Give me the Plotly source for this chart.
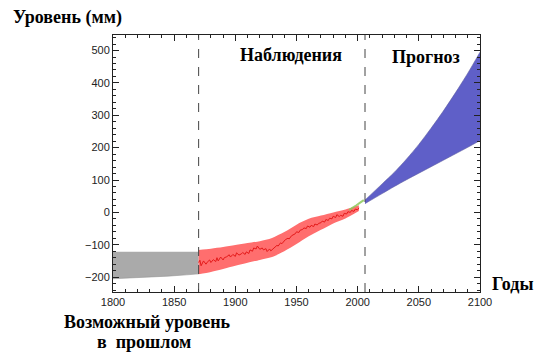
import plotly.graph_objects as go

# ---- data ----
past_years = [1800, 1815, 1830, 1845, 1860, 1870]
past_upper = [-122, -122, -122, -122, -122, -122]
past_lower = [-205, -203, -200, -197, -193, -190]

obs_years = [1870, 1871, 1872, 1874, 1876, 1877, 1879, 1880, 1882, 1884, 1885, 1886, 1888,
             1890, 1891, 1893, 1895, 1896, 1898, 1900, 1901, 1903, 1905, 1906, 1908, 1909,
             1911, 1912, 1914, 1915, 1917, 1918, 1920, 1922, 1923, 1925, 1926, 1928, 1929,
             1931, 1932, 1934, 1935, 1937, 1938, 1940, 1941, 1943, 1944, 1946, 1947, 1949,
             1950, 1952, 1953, 1955, 1956, 1958, 1959, 1961, 1962, 1964, 1965, 1967, 1968,
             1970, 1971, 1973, 1974, 1976, 1977, 1979, 1980, 1982, 1983, 1985, 1986, 1988,
             1989, 1991, 1992, 1994, 1995, 1997, 1998, 2000, 2001]
obs_mean = [-155, -148, -165, -150, -160, -154, -147, -155, -146, -152, -140, -150, -138,
            -147, -140, -137, -131, -138, -130, -136, -125, -132, -128, -124, -130, -122,
            -127, -116, -120, -110, -113, -104, -114, -110, -116, -112, -121, -113, -119,
            -112, -107, -102, -104, -94, -97, -88, -84, -80, -82, -72, -70, -66,
            -60, -62, -55, -53, -48, -50, -42, -46, -40, -44, -36, -39, -34,
            -32, -27, -30, -22, -25, -18, -20, -12, -16, -7, -13, -9, -12,
            -3, -5, 2, 0, 6, 3, 10, 8, 14]

band_years = [1870, 1880, 1890, 1900, 1910, 1920, 1930, 1940, 1950, 1960, 1970, 1980, 1990, 2001]
band_upper = [-116, -112, -107, -101, -95, -89, -79, -61, -38, -20, -10, 0, 9, 22]
band_lower = [-191, -184, -175, -165, -156, -147, -138, -120, -98, -74, -54, -34, -19, 4]

sat_years = [1993, 1996, 1999, 2002, 2005]
sat_values = [8, 14, 22, 30, 38]

proj_years = [2006, 2020, 2030, 2040, 2050, 2060, 2070, 2080, 2090, 2100]
proj_upper = [38, 88, 124, 165, 210, 260, 313, 370, 430, 495]
proj_lower = [27, 58, 80, 101, 121, 141, 161, 181, 201, 222]

divider_years = [1870, 2006]

x_ticks = [1800, 1850, 1900, 1950, 2000, 2050, 2100]
y_ticks = [-200, -100, 0, 100, 200, 300, 400, 500]

# ---- figure ----
fig = go.Figure()

fig.add_trace(go.Scatter(x=past_years, y=past_upper, mode="lines",
                         line=dict(width=0), hoverinfo="skip", showlegend=False))
fig.add_trace(go.Scatter(x=past_years, y=past_lower, mode="lines", fill="tonexty",
                         fillcolor="rgb(170,170,170)", line=dict(width=0.6, color="rgb(150,150,150)"),
                         showlegend=False))

fig.add_trace(go.Scatter(x=band_years, y=band_upper, mode="lines",
                         line=dict(width=0, shape="spline", smoothing=0.8),
                         hoverinfo="skip", showlegend=False))
fig.add_trace(go.Scatter(x=band_years, y=band_lower, mode="lines", fill="tonexty",
                         fillcolor="rgb(255,110,110)",
                         line=dict(width=0, shape="spline", smoothing=0.8),
                         showlegend=False))
fig.add_trace(go.Scatter(x=obs_years, y=obs_mean, mode="lines",
                         line=dict(width=1, color="rgb(228,25,25)"), showlegend=False))
fig.add_trace(go.Scatter(x=sat_years, y=sat_values, mode="lines",
                         line=dict(width=2, color="rgba(140,200,90,0.85)"), showlegend=False))

fig.add_trace(go.Scatter(x=proj_years, y=proj_upper, mode="lines",
                         line=dict(width=0.6, color="rgb(90,90,160)", shape="spline", smoothing=0.8),
                         hoverinfo="skip", showlegend=False))
fig.add_trace(go.Scatter(x=proj_years, y=proj_lower, mode="lines", fill="tonexty",
                         fillcolor="rgb(95,95,200)",
                         line=dict(width=0.6, color="rgb(90,90,160)", shape="spline", smoothing=0.8),
                         showlegend=False))

for yr in divider_years:
    fig.add_shape(type="line", x0=yr, x1=yr, y0=0, y1=1, xref="x", yref="paper",
                  line=dict(color="#444", width=1, dash="dash"))

axis_common = dict(showline=True, linecolor="#222", linewidth=1, mirror="ticks",
                   ticks="inside", ticklen=6, tickcolor="#222", showgrid=False,
                   zeroline=False, tickfont=dict(family="Liberation Sans, Arial", size=11, color="#222"))

fig.update_xaxes(range=[1800, 2100], tickvals=x_ticks,
                 minor=dict(dtick=10, ticks="inside", ticklen=3, tickcolor="#222"),
                 **axis_common)
fig.update_yaxes(range=[-246, 548], tickvals=y_ticks,
                 minor=dict(dtick=20, ticks="inside", ticklen=3, tickcolor="#222"),
                 **axis_common)

tfont = dict(family="Times New Roman, Liberation Serif, DejaVu Serif, serif", size=18, color="black")

L, R, T, B = 113, 62, 35, 62
pw, ph = 542 - L - R, 354 - T - B
labels = [
    ("<b>Уровень (мм)</b>", 67, 17),
    ("<b>Наблюдения</b>", 291, 55),
    ("<b>Прогноз</b>", 426, 57),
    ("<b>Годы</b>", 513, 284),
    ("<b>Возможный уровень</b>", 147, 322),
    ("<b>в  прошлом</b>", 144, 342),
]
for txt, px, py in labels:
    fig.add_annotation(text=txt, x=(px - L) / pw, y=1 - (py - T) / ph,
                       xref="paper", yref="paper", showarrow=False,
                       xanchor="center", yanchor="middle", font=tfont)

fig.update_layout(width=542, height=354, margin=dict(l=L, r=R, t=T, b=B),
                  plot_bgcolor="white", paper_bgcolor="white")

fig.write_html("out.html")
